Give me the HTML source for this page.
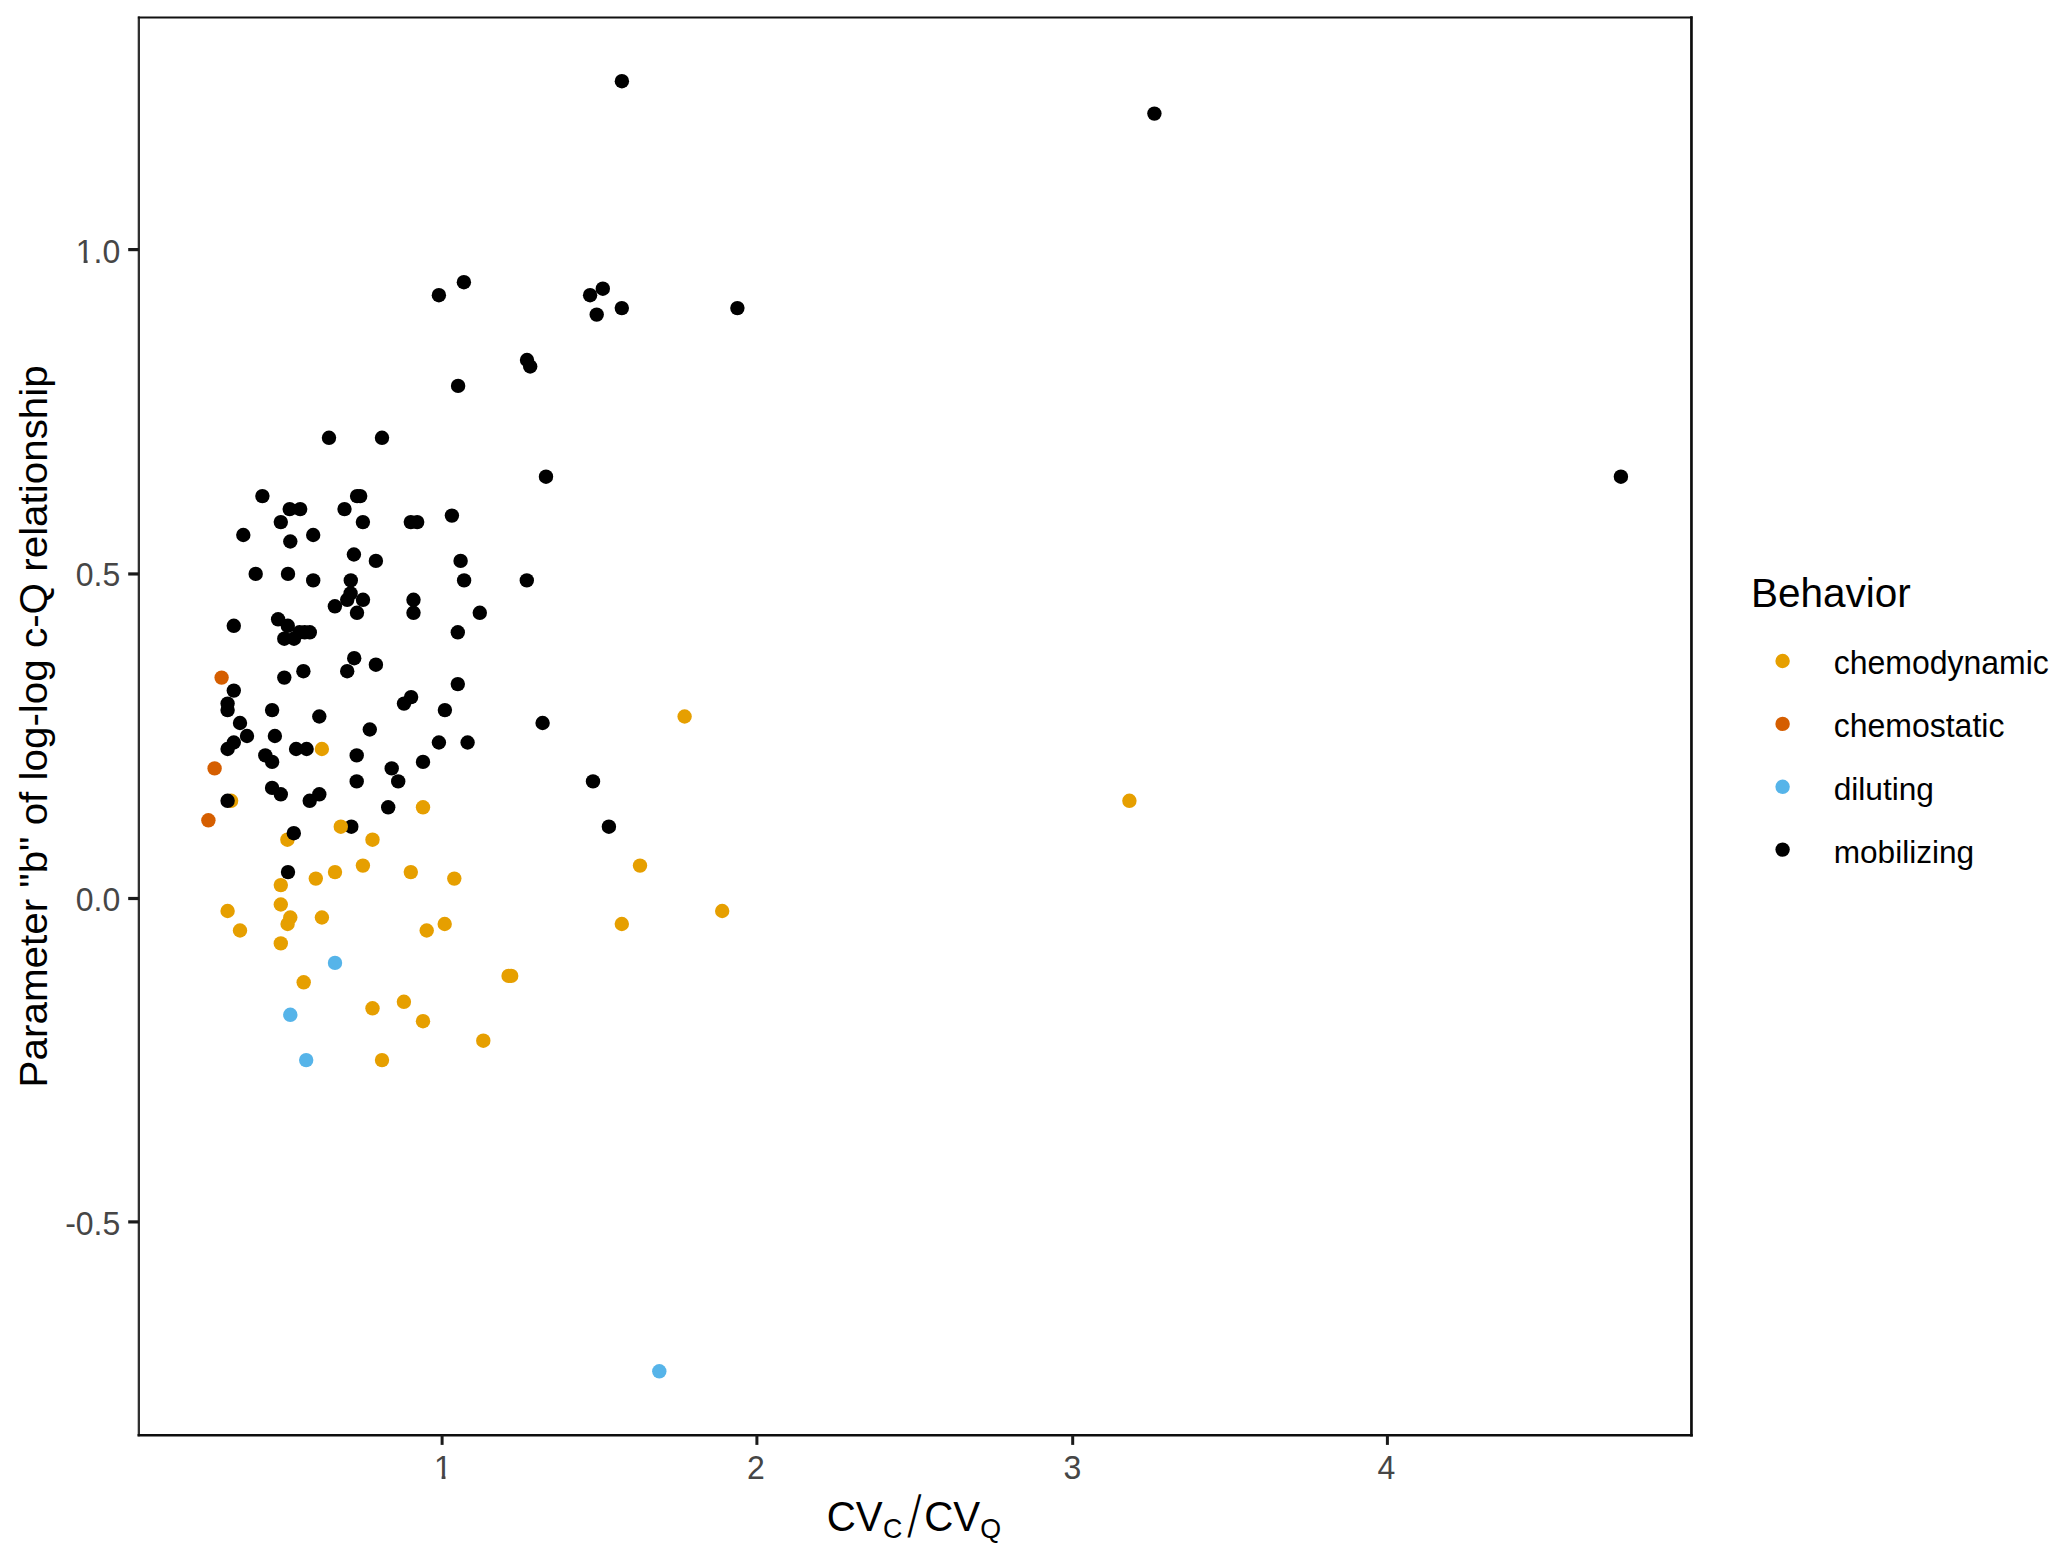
<!DOCTYPE html>
<html lang="en"><head><meta charset="utf-8"><title>c-Q behavior scatter</title>
<style>
html,body{margin:0;padding:0;background:#fff;}
body{width:2067px;height:1558px;overflow:hidden;}
svg{display:block;}
text{font-family:"Liberation Sans",sans-serif;}
.tick{font-size:32px;fill:#464646;}
.leg{font-size:32px;fill:#000;}
.ttl{font-size:40px;fill:#000;}
</style></head><body>
<svg width="2067" height="1558" viewBox="0 0 2067 1558">
<rect x="0" y="0" width="2067" height="1558" fill="#ffffff"/>
<g id="points">
<circle cx="231.1" cy="800.8" r="7.2" fill="#E69F00"/>
<circle cx="287.4" cy="839.7" r="7.2" fill="#E69F00"/>
<circle cx="280.8" cy="885.1" r="7.2" fill="#E69F00"/>
<circle cx="351.3" cy="826.7" r="7.2" fill="#000000"/>
<circle cx="321.9" cy="749.0" r="7.2" fill="#E69F00"/>
<circle cx="423.0" cy="807.3" r="7.2" fill="#E69F00"/>
<circle cx="372.5" cy="839.7" r="7.2" fill="#E69F00"/>
<circle cx="362.9" cy="865.6" r="7.2" fill="#E69F00"/>
<circle cx="335.0" cy="872.1" r="7.2" fill="#E69F00"/>
<circle cx="410.8" cy="872.1" r="7.2" fill="#E69F00"/>
<circle cx="315.8" cy="878.6" r="7.2" fill="#E69F00"/>
<circle cx="454.3" cy="878.6" r="7.2" fill="#E69F00"/>
<circle cx="280.8" cy="904.5" r="7.2" fill="#E69F00"/>
<circle cx="227.6" cy="911.0" r="7.2" fill="#E69F00"/>
<circle cx="290.3" cy="917.5" r="7.2" fill="#E69F00"/>
<circle cx="321.9" cy="917.5" r="7.2" fill="#E69F00"/>
<circle cx="287.6" cy="924.0" r="7.2" fill="#E69F00"/>
<circle cx="240.0" cy="930.5" r="7.2" fill="#E69F00"/>
<circle cx="444.7" cy="924.0" r="7.2" fill="#E69F00"/>
<circle cx="426.7" cy="930.5" r="7.2" fill="#E69F00"/>
<circle cx="621.8" cy="924.0" r="7.2" fill="#E69F00"/>
<circle cx="280.8" cy="943.4" r="7.2" fill="#E69F00"/>
<circle cx="303.7" cy="982.3" r="7.2" fill="#E69F00"/>
<circle cx="508.6" cy="975.9" r="7.2" fill="#E69F00"/>
<circle cx="511.2" cy="975.9" r="7.2" fill="#E69F00"/>
<circle cx="403.9" cy="1001.8" r="7.2" fill="#E69F00"/>
<circle cx="372.5" cy="1008.3" r="7.2" fill="#E69F00"/>
<circle cx="423.0" cy="1021.2" r="7.2" fill="#E69F00"/>
<circle cx="483.3" cy="1040.7" r="7.2" fill="#E69F00"/>
<circle cx="382.0" cy="1060.1" r="7.2" fill="#E69F00"/>
<circle cx="684.6" cy="716.5" r="7.2" fill="#E69F00"/>
<circle cx="640.0" cy="865.6" r="7.2" fill="#E69F00"/>
<circle cx="722.2" cy="911.0" r="7.2" fill="#E69F00"/>
<circle cx="1129.4" cy="800.8" r="7.2" fill="#E69F00"/>
<circle cx="340.8" cy="826.7" r="7.2" fill="#E69F00"/>
<circle cx="221.6" cy="677.6" r="7.2" fill="#D55E00"/>
<circle cx="214.6" cy="768.4" r="7.2" fill="#D55E00"/>
<circle cx="208.4" cy="820.3" r="7.2" fill="#D55E00"/>
<circle cx="335.0" cy="962.9" r="7.2" fill="#56B4E9"/>
<circle cx="290.3" cy="1014.8" r="7.2" fill="#56B4E9"/>
<circle cx="306.2" cy="1060.1" r="7.2" fill="#56B4E9"/>
<circle cx="659.3" cy="1371.3" r="7.2" fill="#56B4E9"/>
<circle cx="262.4" cy="496.1" r="7.2" fill="#000000"/>
<circle cx="289.7" cy="509.1" r="7.2" fill="#000000"/>
<circle cx="300.2" cy="509.1" r="7.2" fill="#000000"/>
<circle cx="357.1" cy="496.1" r="7.2" fill="#000000"/>
<circle cx="360.2" cy="496.1" r="7.2" fill="#000000"/>
<circle cx="344.5" cy="509.1" r="7.2" fill="#000000"/>
<circle cx="280.8" cy="522.1" r="7.2" fill="#000000"/>
<circle cx="362.9" cy="522.1" r="7.2" fill="#000000"/>
<circle cx="410.8" cy="522.1" r="7.2" fill="#000000"/>
<circle cx="417.2" cy="522.1" r="7.2" fill="#000000"/>
<circle cx="243.3" cy="535.0" r="7.2" fill="#000000"/>
<circle cx="313.2" cy="535.0" r="7.2" fill="#000000"/>
<circle cx="290.3" cy="541.5" r="7.2" fill="#000000"/>
<circle cx="353.9" cy="554.5" r="7.2" fill="#000000"/>
<circle cx="375.9" cy="560.9" r="7.2" fill="#000000"/>
<circle cx="255.7" cy="573.9" r="7.2" fill="#000000"/>
<circle cx="288.0" cy="573.9" r="7.2" fill="#000000"/>
<circle cx="313.2" cy="580.4" r="7.2" fill="#000000"/>
<circle cx="350.8" cy="580.4" r="7.2" fill="#000000"/>
<circle cx="350.6" cy="593.4" r="7.2" fill="#000000"/>
<circle cx="347.2" cy="599.8" r="7.2" fill="#000000"/>
<circle cx="363.0" cy="599.8" r="7.2" fill="#000000"/>
<circle cx="334.9" cy="606.3" r="7.2" fill="#000000"/>
<circle cx="357.0" cy="612.8" r="7.2" fill="#000000"/>
<circle cx="413.5" cy="599.8" r="7.2" fill="#000000"/>
<circle cx="413.5" cy="612.8" r="7.2" fill="#000000"/>
<circle cx="233.8" cy="625.8" r="7.2" fill="#000000"/>
<circle cx="278.1" cy="619.3" r="7.2" fill="#000000"/>
<circle cx="287.8" cy="625.8" r="7.2" fill="#000000"/>
<circle cx="299.5" cy="632.3" r="7.2" fill="#000000"/>
<circle cx="304.7" cy="632.3" r="7.2" fill="#000000"/>
<circle cx="309.8" cy="632.3" r="7.2" fill="#000000"/>
<circle cx="284.3" cy="638.7" r="7.2" fill="#000000"/>
<circle cx="294.0" cy="638.7" r="7.2" fill="#000000"/>
<circle cx="354.2" cy="658.2" r="7.2" fill="#000000"/>
<circle cx="375.9" cy="664.7" r="7.2" fill="#000000"/>
<circle cx="347.2" cy="671.2" r="7.2" fill="#000000"/>
<circle cx="303.4" cy="671.2" r="7.2" fill="#000000"/>
<circle cx="284.3" cy="677.6" r="7.2" fill="#000000"/>
<circle cx="233.8" cy="690.6" r="7.2" fill="#000000"/>
<circle cx="227.6" cy="703.6" r="7.2" fill="#000000"/>
<circle cx="227.6" cy="710.1" r="7.2" fill="#000000"/>
<circle cx="272.1" cy="710.1" r="7.2" fill="#000000"/>
<circle cx="319.3" cy="716.5" r="7.2" fill="#000000"/>
<circle cx="411.1" cy="697.1" r="7.2" fill="#000000"/>
<circle cx="404.0" cy="703.6" r="7.2" fill="#000000"/>
<circle cx="240.0" cy="723.0" r="7.2" fill="#000000"/>
<circle cx="369.8" cy="729.5" r="7.2" fill="#000000"/>
<circle cx="247.0" cy="736.0" r="7.2" fill="#000000"/>
<circle cx="274.9" cy="736.0" r="7.2" fill="#000000"/>
<circle cx="233.8" cy="742.5" r="7.2" fill="#000000"/>
<circle cx="227.6" cy="749.0" r="7.2" fill="#000000"/>
<circle cx="296.1" cy="749.0" r="7.2" fill="#000000"/>
<circle cx="306.6" cy="749.0" r="7.2" fill="#000000"/>
<circle cx="265.3" cy="755.4" r="7.2" fill="#000000"/>
<circle cx="272.1" cy="761.9" r="7.2" fill="#000000"/>
<circle cx="356.7" cy="755.4" r="7.2" fill="#000000"/>
<circle cx="391.7" cy="768.4" r="7.2" fill="#000000"/>
<circle cx="398.2" cy="781.4" r="7.2" fill="#000000"/>
<circle cx="356.7" cy="781.4" r="7.2" fill="#000000"/>
<circle cx="272.1" cy="787.9" r="7.2" fill="#000000"/>
<circle cx="280.8" cy="794.3" r="7.2" fill="#000000"/>
<circle cx="319.3" cy="794.3" r="7.2" fill="#000000"/>
<circle cx="309.7" cy="800.8" r="7.2" fill="#000000"/>
<circle cx="388.2" cy="807.3" r="7.2" fill="#000000"/>
<circle cx="546.0" cy="476.7" r="7.2" fill="#000000"/>
<circle cx="451.9" cy="515.6" r="7.2" fill="#000000"/>
<circle cx="460.6" cy="560.9" r="7.2" fill="#000000"/>
<circle cx="464.1" cy="580.4" r="7.2" fill="#000000"/>
<circle cx="526.8" cy="580.4" r="7.2" fill="#000000"/>
<circle cx="479.8" cy="612.8" r="7.2" fill="#000000"/>
<circle cx="457.8" cy="632.3" r="7.2" fill="#000000"/>
<circle cx="457.8" cy="684.1" r="7.2" fill="#000000"/>
<circle cx="444.9" cy="710.1" r="7.2" fill="#000000"/>
<circle cx="542.6" cy="723.0" r="7.2" fill="#000000"/>
<circle cx="438.9" cy="742.5" r="7.2" fill="#000000"/>
<circle cx="467.6" cy="742.5" r="7.2" fill="#000000"/>
<circle cx="423.0" cy="761.9" r="7.2" fill="#000000"/>
<circle cx="593.0" cy="781.4" r="7.2" fill="#000000"/>
<circle cx="608.9" cy="826.7" r="7.2" fill="#000000"/>
<circle cx="463.9" cy="282.2" r="7.2" fill="#000000"/>
<circle cx="438.9" cy="295.2" r="7.2" fill="#000000"/>
<circle cx="602.8" cy="288.7" r="7.2" fill="#000000"/>
<circle cx="590.1" cy="295.2" r="7.2" fill="#000000"/>
<circle cx="621.8" cy="308.1" r="7.2" fill="#000000"/>
<circle cx="596.7" cy="314.6" r="7.2" fill="#000000"/>
<circle cx="527.0" cy="360.0" r="7.2" fill="#000000"/>
<circle cx="530.2" cy="366.5" r="7.2" fill="#000000"/>
<circle cx="458.1" cy="385.9" r="7.2" fill="#000000"/>
<circle cx="329.0" cy="437.8" r="7.2" fill="#000000"/>
<circle cx="382.0" cy="437.8" r="7.2" fill="#000000"/>
<circle cx="621.9" cy="81.2" r="7.2" fill="#000000"/>
<circle cx="1154.4" cy="113.6" r="7.2" fill="#000000"/>
<circle cx="737.4" cy="308.1" r="7.2" fill="#000000"/>
<circle cx="1620.9" cy="476.7" r="7.2" fill="#000000"/>
<circle cx="227.6" cy="800.8" r="7.2" fill="#000000"/>
<circle cx="293.8" cy="833.2" r="7.2" fill="#000000"/>
<circle cx="288.0" cy="872.1" r="7.2" fill="#000000"/>
</g>
<g fill="none" stroke-linecap="square"><line x1="138.85" y1="17.55" x2="138.85" y2="1435.2" stroke="#303030" stroke-width="2.3"/><line x1="138.85" y1="17.55" x2="1691.45" y2="17.55" stroke="#111111" stroke-width="1.9"/><line x1="1691.45" y1="17.55" x2="1691.45" y2="1435.2" stroke="#0d0d0d" stroke-width="2.7"/><line x1="138.85" y1="1435.2" x2="1691.45" y2="1435.2" stroke="#0d0d0d" stroke-width="2.6"/></g>
<g stroke="#1a1a1a"><g stroke-width="3"><line x1="442.1" y1="1435.2" x2="442.1" y2="1444.9"/><line x1="756.9" y1="1435.2" x2="756.9" y2="1444.9"/><line x1="1072.7" y1="1435.2" x2="1072.7" y2="1444.9"/><line x1="1387.4" y1="1435.2" x2="1387.4" y2="1444.9"/></g><g stroke-width="3.2"><line x1="128.2" y1="249.6" x2="138.9" y2="249.6"/><line x1="128.2" y1="573.95" x2="138.9" y2="573.95"/><line x1="128.2" y1="898.5" x2="138.9" y2="898.5"/><line x1="128.2" y1="1221.9" x2="138.9" y2="1221.9"/></g></g>
<g class="tick"><text transform="translate(443.0,1479) scale(1,1.035)" text-anchor="middle">1</text><text transform="translate(756.0,1479) scale(1,1.035)" text-anchor="middle">2</text><text transform="translate(1072.4,1479) scale(1,1.035)" text-anchor="middle">3</text><text transform="translate(1386.5,1479) scale(1,1.035)" text-anchor="middle">4</text><text transform="translate(120.3,262.5) scale(1,1.05)" text-anchor="end">1.0</text><text transform="translate(120.3,586.4) scale(1,1.05)" text-anchor="end">0.5</text><text transform="translate(120.3,910.9) scale(1,1.05)" text-anchor="end">0.0</text><text transform="translate(120.3,1234.7) scale(1,1.05)" text-anchor="end">-0.5</text></g>
<g fill="#ffffff"><rect x="433.5" y="1475.7" width="8.1" height="4.6"/><rect x="445.5" y="1475.7" width="7" height="4.6"/><rect x="76" y="259.7" width="7.6" height="4.5"/><rect x="87.6" y="259.7" width="5.6" height="4.5"/></g>
<text class="ttl" transform="translate(47.2,1087.4) rotate(-90) scale(1,0.975)" style="font-size:40.4px">Parameter "b" of log-log c-Q relationship</text>
<g class="ttl" id="xtitle"><g transform="translate(0,1530.8) scale(1,1.04) translate(0,-1530.8)"><text x="826.7" y="1530.8" font-size="40.3">CV</text><text x="883.0" y="1537.7" font-size="26.8">C</text></g><text x="0" y="0" font-size="59.1" transform="translate(907.5,1536.6) skewX(-6.29) scale(0.554,1)">/</text><g transform="translate(0,1530.8) scale(1,1.04) translate(0,-1530.8)"><text x="924.15" y="1530.8" font-size="40.3">CV</text><text x="980.2" y="1537.7" font-size="26.8">Q</text></g></g>
<text class="ttl" transform="translate(1750.9,606.5) scale(1,1.0)" style="font-size:40.5px">Behavior</text>
<g class="leg"><circle cx="1782.6" cy="661.0" r="7.2" fill="#E69F00"/><text transform="translate(1833.7,674.1) scale(1,1.02)" style="font-size:32px">chemodynamic</text><circle cx="1782.6" cy="723.9" r="7.2" fill="#D55E00"/><text transform="translate(1833.7,737.0) scale(1,1.02)" style="font-size:32px">chemostatic</text><circle cx="1782.6" cy="786.8" r="7.2" fill="#56B4E9"/><text transform="translate(1833.7,799.9) scale(1,1.02)" style="font-size:31.65px">diluting</text><circle cx="1782.6" cy="849.6" r="7.2" fill="#000000"/><text transform="translate(1833.7,862.7) scale(1,1.02)" style="font-size:31.6px">mobilizing</text></g>
</svg>
</body></html>
